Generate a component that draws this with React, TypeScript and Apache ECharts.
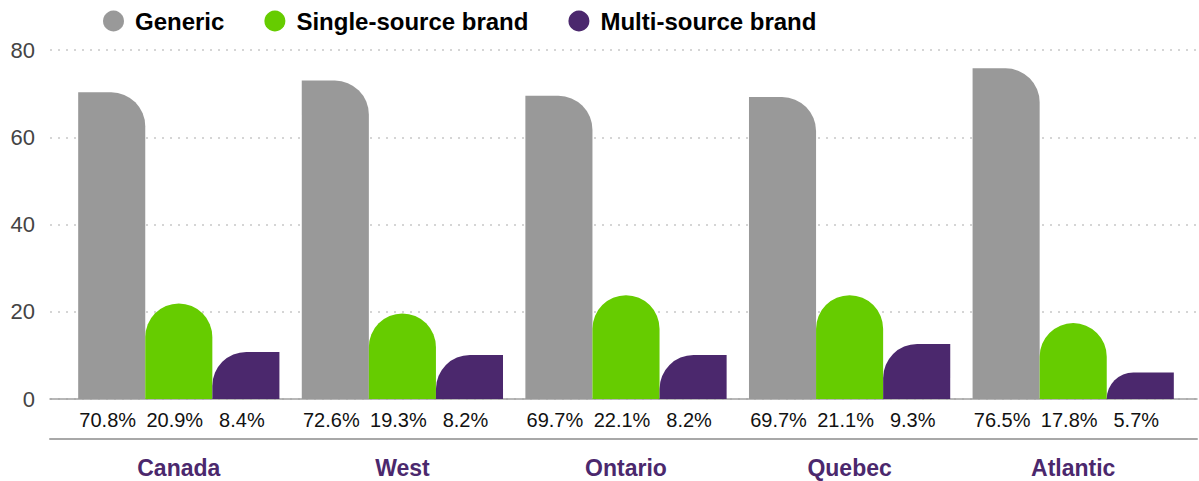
import React, { useEffect, useRef } from "react";
import * as echarts from "echarts";

const categories = ["Canada", "West", "Ontario", "Quebec", "Atlantic"];
const seriesNames = ["Generic", "Single-source brand", "Multi-source brand"];
const genericValues = [70.3, 73.0, 69.5, 69.2, 75.8];
const singleValues = [21.9, 19.6, 23.8, 23.8, 17.4];
const multiValues = [10.8, 10.1, 10.1, 12.6, 6.1];
const genericLabels = ["70.8%", "72.6%", "69.7%", "69.7%", "76.5%"];
const singleLabels = ["20.9%", "19.3%", "22.1%", "21.1%", "17.8%"];
const multiLabels = ["8.4%", "8.2%", "8.2%", "9.3%", "5.7%"];
const yTicks = { min: 0, max: 80, interval: 20 };

const FONT = "'Liberation Sans', Arial, Helvetica, sans-serif";
const colors = ["#999999", "#66CC00", "#4B286D"];

export default function App() {
  const ref = useRef<HTMLDivElement>(null);
  useEffect(() => {
    if (!ref.current) return;
    const chart = echarts.init(ref.current, null, { renderer: "svg" });
    const labelCfg = (labels: string[]) => ({
      show: true,
      position: "bottom",
      distance: 11,
      offset: [-4, 0],
      color: "#111",
      fontSize: 20,
      fontFamily: FONT,
      formatter: (p: any) => labels[p.dataIndex],
    });
    const mk = (name: string, data: number[], labels: string[], radius: number[], color: string) => ({
      type: "bar",
      name,
      data,
      xAxisIndex: 0,
      yAxisIndex: 0,
      barGap: "0%",
      barCategoryGap: "10%",
      itemStyle: { color, borderRadius: radius },
      label: labelCfg(labels),
      emphasis: { disabled: true },
    });
    chart.setOption({
      animation: false,
      color: colors,
      legend: {
        data: seriesNames,
        left: 98,
        top: 4,
        icon: "circle",
        itemWidth: 21,
        itemHeight: 21,
        itemGap: 40,
        textStyle: { fontSize: 24, fontWeight: "bold", color: "#000", fontFamily: FONT, padding: [0, 0, 0, 6] },
      },
      grid: [
        { left: 67, right: 14, top: 50, bottom: 82 },
        { left: 50, right: 2, top: 50, bottom: 82 },
      ],
      xAxis: [
        {
          type: "category",
          gridIndex: 0,
          data: categories,
          axisLine: { show: false },
          axisTick: { show: false },
          axisLabel: { margin: 57, fontSize: 23, fontWeight: "bold", color: "#4B286D", fontFamily: FONT },
        },
        {
          type: "category",
          gridIndex: 1,
          data: categories,
          axisLine: { show: true, lineStyle: { color: "#a0a0a0", width: 1.5 } },
          axisTick: { show: false },
          axisLabel: { show: false },
        },
        {
          type: "category",
          gridIndex: 1,
          data: categories,
          position: "bottom",
          offset: 40,
          axisLine: { show: true, onZero: false, lineStyle: { color: "#a8a8a8", width: 2 } },
          axisTick: { show: false },
          axisLabel: { show: false },
        },
      ],
      yAxis: [
        { type: "value", gridIndex: 0, ...yTicks, show: false },
        {
          type: "value",
          gridIndex: 1,
          ...yTicks,
          axisLine: { show: false },
          axisTick: { show: false },
          axisLabel: { margin: 15, fontSize: 22, color: "#444", fontFamily: FONT },
          splitLine: { show: true, lineStyle: { color: "#c8c8c8", type: [2, 6], width: 1.5 } },
        },
      ],
      series: [
        mk(seriesNames[0], genericValues, genericLabels, [0, 34, 0, 0], colors[0]),
        mk(seriesNames[1], singleValues, singleLabels, [34, 34, 0, 0], colors[1]),
        mk(seriesNames[2], multiValues, multiLabels, [34, 0, 0, 0], colors[2]),
      ],
    });
    return () => chart.dispose();
  }, []);
  return (
    <div
      ref={ref}
      style={{ position: "absolute", left: 0, top: 0, width: 1199, height: 481, background: "#fff" }}
    />
  );
}
